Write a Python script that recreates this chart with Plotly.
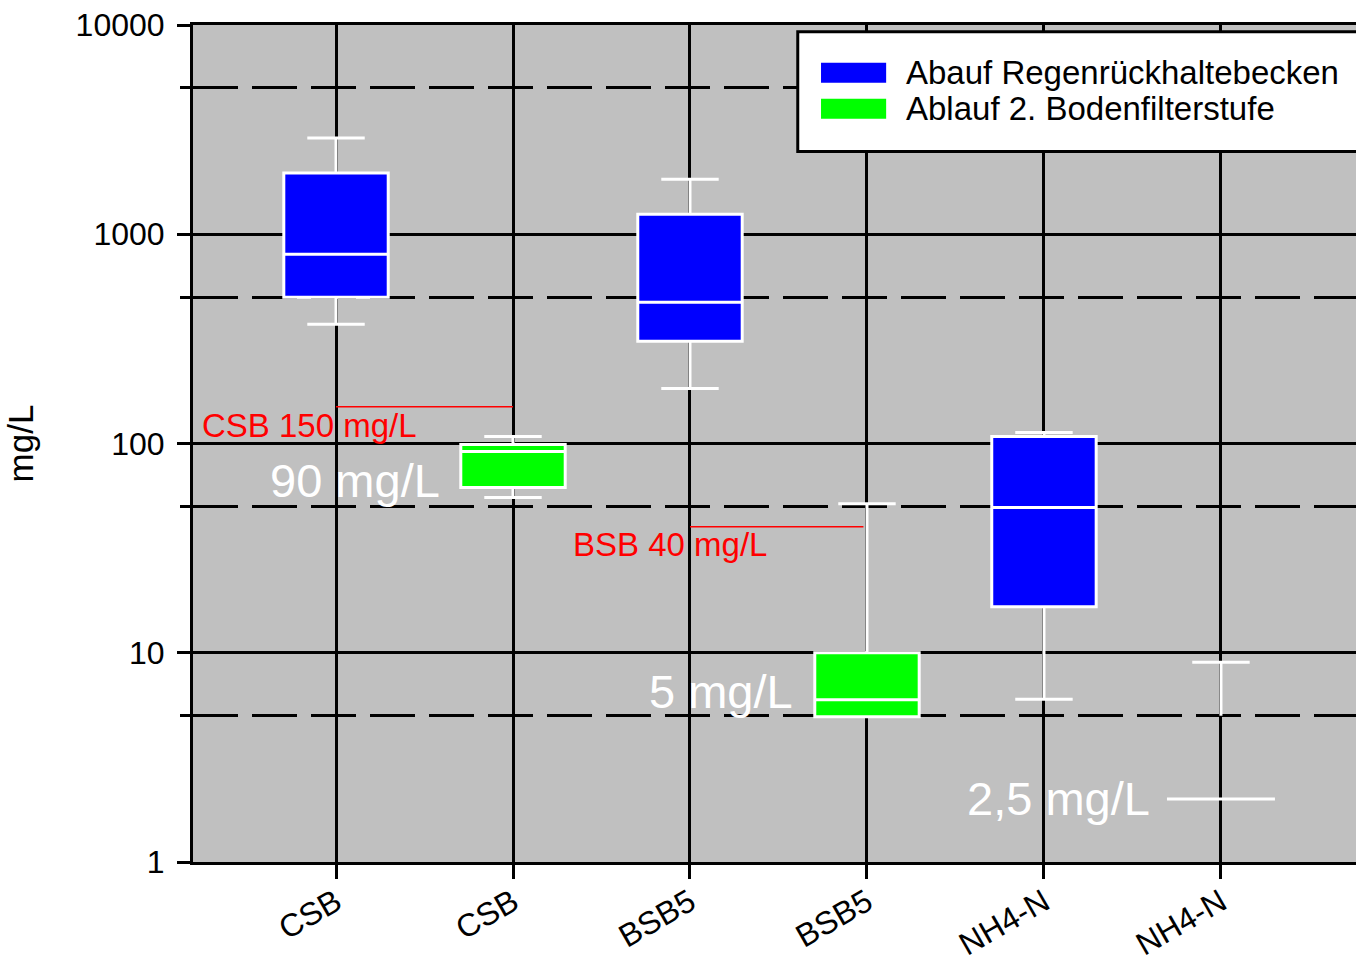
import math
import plotly.graph_objects as go

# ---- data ----
categories = ["CSB", "CSB", "BSB5", "BSB5", "NH4-N", "NH4-N"]
cat_pos = [0, 1, 2, 3, 4, 5]

blue_name = "Abauf Regenrückhaltebecken"
blue_x = [0, 2, 4]
blue_lower = [371, 183, 6.0]
blue_q1 = [500, 308, 16.6]
blue_median = [802, 473, 49.4]
blue_q3 = [1960, 1247, 108]
blue_upper = [2880, 1833, 113]

green_name = "Ablauf 2. Bodenfilterstufe"
green_x = [1, 3]
green_lower = [55.2, 4.95]
green_q1 = [61.6, 4.95]
green_median = [91.6, 5.96]
green_q3 = [99, 10.0]
green_upper = [108, 51.6]

# NH4-N outflow: only the whisker is visible (5 .. 9 mg/L)
nh4_green_x = 5
nh4_green_low = 5.0
nh4_green_high = 9.0

# limit values (red) and annotated white labels
limit_csb = 150
limit_bsb = 40
white_line_val = 2.0

y_tickvals = [1, 10, 100, 1000, 10000]
y_ticktext = ["1", "10", "100", "1000", "10000"]
y_minorvals = [5, 50, 500, 5000]

FONT = "Liberation Sans, Arial, sans-serif"
BOXW = 0.59
CAPW = 0.55

fig = go.Figure()

fig.add_trace(go.Box(
    name=blue_name, x=blue_x, q1=blue_q1, median=blue_median, q3=blue_q3,
    lowerfence=blue_lower, upperfence=blue_upper,
    fillcolor="#0000ff", line=dict(color="white", width=3),
    width=BOXW, whiskerwidth=CAPW, boxpoints=False, showlegend=False,
))
fig.add_trace(go.Box(
    name=green_name, x=green_x, q1=green_q1, median=green_median, q3=green_q3,
    lowerfence=green_lower, upperfence=green_upper,
    fillcolor="#00ff00", line=dict(color="white", width=3),
    width=BOXW, whiskerwidth=CAPW, boxpoints=False, showlegend=False,
))

# NH4-N outflow whisker + cap
half_cap = BOXW * CAPW / 2
fig.add_trace(go.Scatter(
    x=[nh4_green_x, nh4_green_x, None, nh4_green_x - half_cap, nh4_green_x + half_cap],
    y=[nh4_green_low, nh4_green_high, None, nh4_green_high, nh4_green_high],
    mode="lines", line=dict(color="white", width=3),
    showlegend=False, hoverinfo="skip",
))

# red limit lines
fig.add_trace(go.Scatter(x=[0, 1], y=[limit_csb, limit_csb], mode="lines",
                         line=dict(color="#ff0000", width=1.5),
                         showlegend=False, hoverinfo="skip"))
fig.add_trace(go.Scatter(x=[2, 2.98], y=[limit_bsb, limit_bsb], mode="lines",
                         line=dict(color="#ff0000", width=1.5),
                         showlegend=False, hoverinfo="skip"))
# white 2,5 mg/L line
fig.add_trace(go.Scatter(x=[4.695, 5.305], y=[white_line_val, white_line_val], mode="lines",
                         line=dict(color="white", width=3),
                         showlegend=False, hoverinfo="skip"))

annotations = [
    dict(x=-0.77, y=math.log10(122), text="CSB 150 mg/L", xanchor="left", yanchor="middle",
         font=dict(color="#ff0000", size=33, family=FONT)),
    dict(x=1.33, y=math.log10(33), text="BSB 40 mg/L", xanchor="left", yanchor="middle",
         font=dict(color="#ff0000", size=33, family=FONT)),
    dict(x=0.60, y=math.log10(66.5), text="90 mg/L", xanchor="right", yanchor="middle",
         font=dict(color="white", size=47, family=FONT)),
    dict(x=2.593, y=math.log10(6.5), text="5 mg/L", xanchor="right", yanchor="middle",
         font=dict(color="white", size=47, family=FONT)),
    dict(x=4.61, y=math.log10(2.02), text="2,5 mg/L", xanchor="right", yanchor="middle",
         font=dict(color="white", size=47, family=FONT)),
]
for a in annotations:
    a.update(xref="x", yref="y", showarrow=False)

# manual legend
legend_items = [(blue_name, "#0000ff", 0.931, 0.955, 0.943),
                (green_name, "#00ff00", 0.888, 0.912, 0.900)]
shapes = [dict(type="rect", xref="paper", yref="paper", x0=0.520, x1=1.02, y0=0.849, y1=0.992,
               fillcolor="white", line=dict(color="black", width=3), layer="above")]
for name, col, y0, y1, yc in legend_items:
    shapes.append(dict(type="rect", xref="paper", yref="paper", x0=0.540, x1=0.596, y0=y0, y1=y1,
                       fillcolor=col, line=dict(width=0), layer="above"))
    annotations.append(dict(xref="paper", yref="paper", x=0.611, y=yc, text=name,
                            xanchor="left", yanchor="middle", showarrow=False,
                            font=dict(color="black", size=33, family=FONT)))

fig.update_layout(
    width=1356, height=963,
    margin=dict(l=193, r=0, t=25, b=101, autoexpand=False),
    paper_bgcolor="white", plot_bgcolor="#c0c0c0",
    showlegend=False,
    font=dict(family=FONT, color="black", size=32),
    annotations=annotations, shapes=shapes,
    xaxis=dict(
        range=[-0.808, 5.763], tickmode="array", tickvals=cat_pos, ticktext=categories,
        tickangle=-30, ticks="outside", ticklen=14, tickwidth=3, tickcolor="black",
        showgrid=True, gridcolor="black", gridwidth=3, zeroline=False,
        showline=True, linecolor="black", linewidth=3, mirror=True,
        tickfont=dict(size=32, family=FONT, color="black"),
        automargin=False, ticklabeloverflow="allow", ticklabelstandoff=-8,
    ),
    yaxis=dict(
        type="log", range=[0, 4], tickmode="array", tickvals=y_tickvals, ticktext=y_ticktext,
        ticks="outside", ticklen=13, tickwidth=3, tickcolor="black",
        showgrid=True, gridcolor="black", gridwidth=3, zeroline=False,
        showline=True, linecolor="black", linewidth=3,
        tickfont=dict(size=32, family=FONT, color="black"),
        ticklabelstandoff=6, automargin=False, ticklabeloverflow="allow",
        minor=dict(tickmode="array", tickvals=y_minorvals, ticks="outside", ticklen=10,
                   tickwidth=3, tickcolor="black", showgrid=True, gridcolor="black",
                   gridwidth=3, griddash="45px,14px"),
        title=dict(text="mg/L", font=dict(size=35, family=FONT, color="black"), standoff=32),
    ),
)

fig.write_html("out.html", config={"displayModeBar": False},
               post_script="document.body.style.margin='0px';")
